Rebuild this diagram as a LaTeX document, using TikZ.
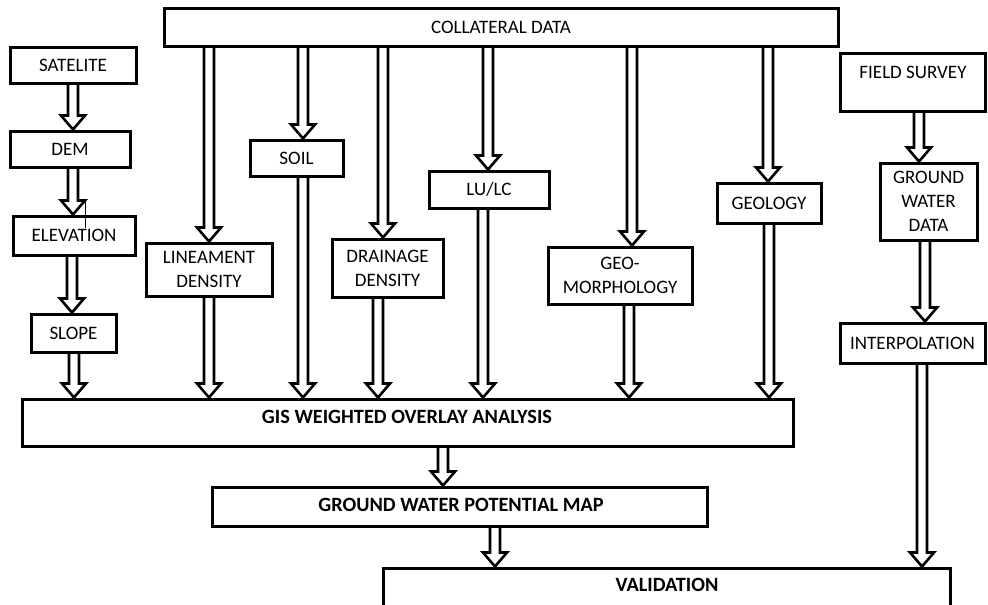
\documentclass[tikz,border=0pt]{standalone}
\usepackage{fontspec}
\setmainfont{Carlito}
\usetikzlibrary{calc}
\pgfdeclarelayer{bg}\pgfsetlayers{bg,main}
\tikzset{
  box/.style={draw, line width=3pt, fill=white, inner sep=0pt, align=center, font=\fontsize{19}{24}\selectfont},
  darrow/.style={draw, line width=2.6pt, fill=white, line join=miter},
  lbl/.style={inner sep=0pt, align=center, font=\fontsize{19}{24}\selectfont},
  bold/.style={font=\fontsize{20.3}{24}\selectfont\bfseries},
  stray/.style={line width=0.7pt},
}
\newcommand\bx[6]{\node[box, minimum width={#4-#2}, minimum height={#5-#3}] (#1) at ({(#2+#4)/2},{(#3+#5)/2}) {#6};}
\newcommand\dar[3]{\begin{pgfonlayer}{bg}\draw[darrow] let \p1=(#2.south), \p2=(#3.north) in
  (#1pt-5pt,\y1) -- (#1pt-5pt,\y2+14pt) -- (#1pt-12pt,\y2+14pt) -- (#1pt,\y2) --
  (#1pt+12pt,\y2+14pt) -- (#1pt+5pt,\y2+14pt) -- (#1pt+5pt,\y1);\end{pgfonlayer}}
\begin{document}
\begin{tikzpicture}[x=1pt,y=-1pt]
\useasboundingbox (0,0) rectangle (988,605);
\clip (0,0) rectangle (988,605);
\begin{pgfonlayer}{bg}\fill[white] (0,0) rectangle (988,605);\end{pgfonlayer}
\bx{coll}{164}{8}{838}{46}{COLLATERAL DATA}
\bx{sat}{10}{47}{136}{83}{SATELITE}
\bx{dem}{10}{131}{130}{167}{DEM}
\bx{elev}{13}{216}{135}{255}{ELEVATION}
\bx{slope}{31}{314}{116}{352}{SLOPE}
\bx{lin}{146}{243}{272}{296}{LINEAMENT\\DENSITY}
\bx{soil}{250}{140}{343}{176}{SOIL}
\bx{drain}{332}{239}{443}{297}{DRAINAGE\\DENSITY}
\bx{lulc}{429}{171}{549}{208}{LU/LC}
\bx{geom}{548}{247}{692}{304}{GEO-\\MORPHOLOGY}
\bx{geol}{717}{183}{821}{223}{GEOLOGY}
\bx{field}{840}{53}{985}{111}{}
\node[lbl] (fieldt) at (913,72) {FIELD SURVEY};
\bx{gwd}{880}{163}{977}{240}{GROUND\\WATER\\DATA}
\bx{interp}{840}{323}{985}{363}{INTERPOLATION}
\bx{gis}{22}{399}{793}{446}{}
\node[lbl,bold] (gist) at (407,417) {GIS WEIGHTED OVERLAY ANALYSIS};
\bx{gwpm}{212}{487}{707}{526}{}
\node[lbl,bold] (gwpmt) at (461,505) {GROUND WATER POTENTIAL MAP};
\bx{valid}{383}{568}{950}{612}{}
\node[lbl,bold] (validt) at (667,585) {VALIDATION};
% arrows
\dar{73}{sat}{dem}
\dar{73}{dem}{elev}
\dar{72}{elev}{slope}
\dar{74}{slope}{gis}
\dar{209}{coll}{lin}
\dar{209}{lin}{gis}
\dar{303}{coll}{soil}
\dar{303}{soil}{gis}
\dar{383}{coll}{drain}
\dar{378}{drain}{gis}
\dar{488}{coll}{lulc}
\dar{483}{lulc}{gis}
\dar{632}{coll}{geom}
\dar{629}{geom}{gis}
\dar{768}{coll}{geol}
\dar{769}{geol}{gis}
\dar{919}{field}{gwd}
\dar{925}{gwd}{interp}
\dar{922}{interp}{valid}
\dar{443}{gis}{gwpm}
\dar{495}{gwpm}{valid}
\coordinate (s1) at (85,202);
\coordinate (s2) at (85,228);
\draw[stray] (s1) -- (s2);
\end{tikzpicture}
\end{document}
